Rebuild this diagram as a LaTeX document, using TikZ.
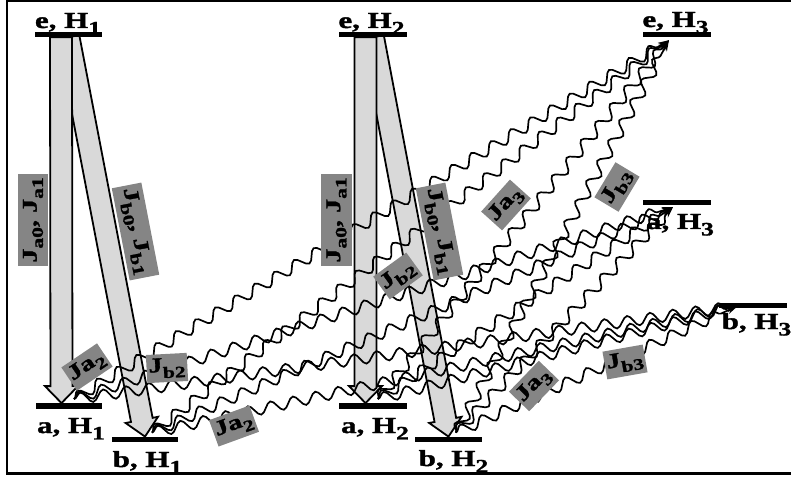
\documentclass[tikz,border=0pt]{standalone}
\usepackage{fontspec}
\usetikzlibrary{calc,decorations.pathmorphing,arrows.meta}
\newfontfamily\lbl{Liberation Serif}[UprightFont={* Bold}, FakeStretch=1.35, FakeBold=1.5]
\definecolor{arrowgray}{HTML}{D9D9D9}
\definecolor{taggray}{HTML}{858585}
% subscripts for level names and for rate tags
\newcommand\lvsub[1]{\raisebox{-0.28em}{\fontsize{19}{19}\selectfont #1}}
\newcommand\tgsub[1]{\raisebox{-0.3em}{\fontsize{16}{16}\selectfont #1}}
% wide block arrow from tail #1 to tip #2
\newcommand\fatarrow[2]{%
  \coordinate (fa-t) at (#1);
  \coordinate (fa-h) at (#2);
  \coordinate (fa-n) at ($(fa-h)!17bp!(fa-t)$);
  \filldraw[fat] ($(fa-t)!11bp!90:(fa-h)$) -- ($(fa-n)!11bp!-90:(fa-t)$)
     -- ($(fa-n)!16.5bp!-90:(fa-t)$) -- (fa-h)
     -- ($(fa-n)!16.5bp!90:(fa-t)$) -- ($(fa-n)!11bp!90:(fa-t)$)
     -- ($(fa-t)!11bp!-90:(fa-h)$) -- cycle;}
\begin{document}
\begin{tikzpicture}[x=1bp,y=-1bp,
  bar/.style={fill=black, inner sep=0pt, minimum height=5bp},
  fat/.style={fill=arrowgray, draw=black, line width=1.8bp, line join=miter},
  photon/.style={draw=black, line width=1.7bp, decorate,
     decoration={snake, segment length=23bp, amplitude=5.5bp, post length=8bp},
     -{Stealth[length=11bp,width=7bp]}},
  lvl/.style={anchor=base, inner sep=0pt, font=\lbl\fontsize{23}{23}\selectfont},
  tag/.style={fill=taggray, inner xsep=2bp, inner ysep=4bp, font=\lbl\fontsize{21}{21}\selectfont},
  bigtag/.style={tag, inner xsep=3bp, inner ysep=5bp}]
\useasboundingbox (0,0) rectangle (791,477);
% frame (open on the right)
\draw[line width=2.2bp] (791,1.3) -- (7.3,1.3) -- (7.3,473.5) -- (791,473.5);

% energy levels
\node[bar, minimum width=67bp] (e1) at (68.5,34.5) {};
\node[bar, minimum width=66bp] (a1) at (69,405.8) {};
\node[bar, minimum width=66bp] (b1) at (145,439.3) {};
\node[bar, minimum width=68bp] (e2) at (373,34.5) {};
\node[bar, minimum width=68bp] (a2) at (373,405.8) {};
\node[bar, minimum width=67bp] (b2) at (448.5,439.3) {};
\node[bar, minimum width=68bp] (e3) at (677,34.5) {};
\node[bar, minimum width=68bp] (a3) at (677,202.5) {};
\node[bar, minimum width=68bp] (b3) at (753,305) {};

% decay arrows inside H1 and H2
\fatarrow{e1.south}{b1.north}
\fatarrow{$(e1.south)+(-7.5,0)$}{$(a1.north)+(-7.5,0)$}
\fatarrow{e2.south}{b2.north}
\fatarrow{$(e2.south)+(-7.5,0)$}{$(a2.north)+(-7.5,0)$}

% redraw the levels over the arrow ends
\foreach \n in {e1,a1,b1,e2,a2,b2}
  \fill (\n.south west) rectangle (\n.north east);

% end points of the transfer lines
\coordinate (sa1) at ($(a1.north)+(5,-4)$);
\coordinate (sb1) at ($(b1.north)+(7,-4)$);
\coordinate (sa2) at ($(a2.north)+(5,-4)$);
\coordinate (sb2) at ($(b2.north)+(7.5,-4)$);
\coordinate (te3) at ($(e3.south)+(-8,3)$);
\coordinate (ta3) at ($(a3.south)+(-4,2)$);
\coordinate (tb3) at ($(b3.west)+(19,1)$);

% transfer lines to H3
\foreach \s in {sa1,sb1,sa2,sb2}
  \foreach \t in {te3,ta3,tb3}
    \draw[photon] (\s) -- (\t);

% rate tags
\node[bigtag, rotate=90]  (ja01) at (33,220) {J\tgsub{a0}, J\tgsub{a1}};
\node[bigtag, rotate=-79] (jb01) at (135.5,231.5) {J\tgsub{b0}, J\tgsub{b1}};
\node[bigtag, rotate=90]  (ja02) at (336.5,220) {J\tgsub{a0}, J\tgsub{a1}};
\node[bigtag, rotate=-79] (jb02) at (439.5,231.5) {J\tgsub{b0}, J\tgsub{b1}};
\node[tag, rotate=34] (ja2u) at (87,367) {Ja\tgsub{2}};
\node[tag, rotate=3]  (jb2u) at (167,368) {J\tgsub{b2}};
\node[tag, rotate=20] (ja2l) at (234,426) {Ja\tgsub{2}};
\node[tag, rotate=36] (jb2r) at (398,276) {J\tgsub{b2}};
\node[tag, rotate=48] (ja3u) at (506,205) {Ja\tgsub{3}};
\node[tag, rotate=59] (jb3u) at (617,187) {J\tgsub{b3}};
\node[tag, rotate=46] (ja3l) at (534,386) {Ja\tgsub{3}};
\node[tag, rotate=10] (jb3l) at (625,362) {J\tgsub{b3}};

% level names
\node[lvl] (le1) at (68,28) {e, H\lvsub{1}};
\node[lvl] (le2) at (371.5,28) {e, H\lvsub{2}};
\node[lvl] (le3) at (675.5,27) {e, H\lvsub{3}};
\node[lvl] (la1) at (71,433) {a, H\lvsub{1}};
\node[lvl] (la2) at (375,433) {a, H\lvsub{2}};
\node[lvl] (la3) at (680,229) {a, H\lvsub{3}};
\node[lvl] (lb1) at (147.5,467) {b, H\lvsub{1}};
\node[lvl] (lb2) at (453.5,466) {b, H\lvsub{2}};
\node[lvl] (lb3) at (756.5,329) {b, H\lvsub{3}};
\end{tikzpicture}
\end{document}
